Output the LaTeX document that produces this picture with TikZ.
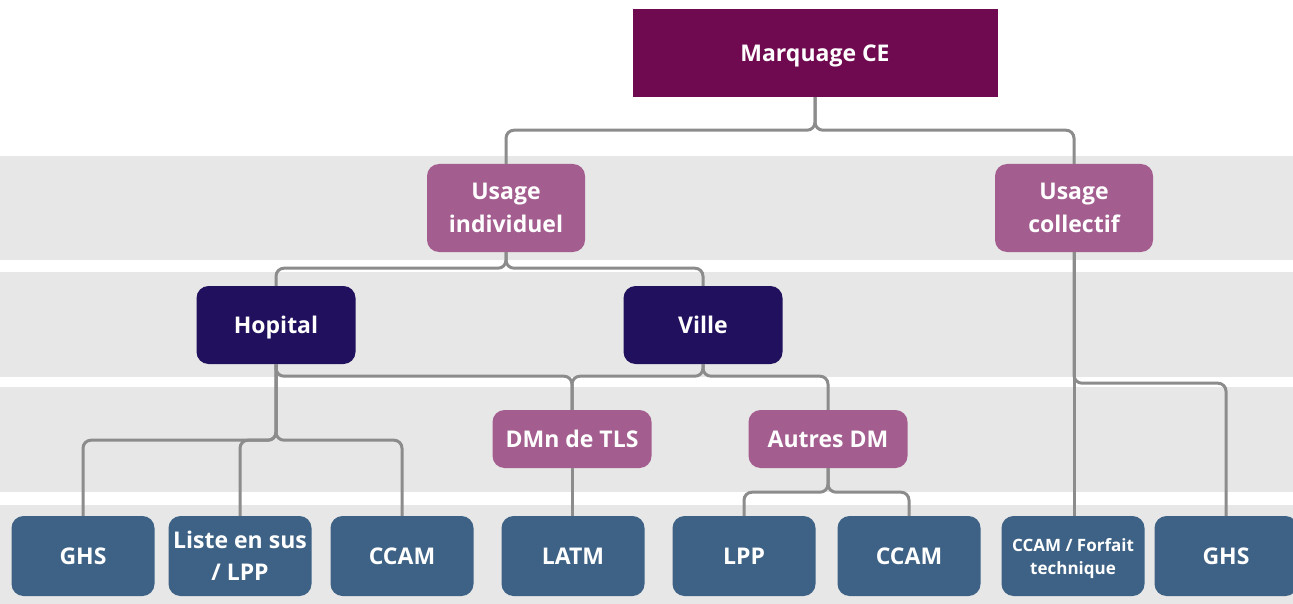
\documentclass[tikz,border=0pt]{standalone}
\usepackage{fontspec}
\setmainfont{Open Sans}
\definecolor{ceplum}{HTML}{700A50}
\definecolor{mauve}{HTML}{A35E8F}
\definecolor{navy}{HTML}{21105E}
\definecolor{slate}{HTML}{3E6285}
\definecolor{band}{HTML}{E7E7E7}
\definecolor{linkgrey}{HTML}{8C8C8C}
\tikzset{
  box/.style={rounded corners=12pt, text=white, align=center, inner sep=0pt, text depth=0pt,
    font=\fontsize{23}{32.5}\selectfont\bfseries},
  top box/.style={box, sharp corners, fill=ceplum, minimum width=365pt, minimum height=88pt},
  usage box/.style={box, fill=mauve, minimum width=158pt, minimum height=88pt},
  place box/.style={box, fill=navy, minimum width=159pt, minimum height=78pt},
  dm box/.style={box, fill=mauve, minimum width=159pt, minimum height=58pt},
  code box/.style={box, fill=slate, minimum width=143pt, minimum height=80pt},
  link/.style={line width=3pt, draw=linkgrey, rounded corners=8pt},
}
\begin{document}
\begin{tikzpicture}[x=1pt, y=-1pt]
  \useasboundingbox (0,0) rectangle (1293,604);

  % Background bands
  \foreach \yt/\yb in {156/260, 272/377, 387/492, 505/604}
    \fill[band] (0,\yt) rectangle (1293,\yb);

  % Boxes
  \node[top box] (ce) at (815,53) {Marquage CE};
  \node[usage box] (indiv) at (506,208) {Usage\\individuel};
  \node[usage box] (coll) at (1074,208) {Usage\\collectif};
  \node[place box] (hopital) at (276,325) {Hopital};
  \node[place box] (ville) at (703,325) {Ville};
  \node[dm box] (tls) at (572,439) {DMn de TLS};
  \node[dm box] (autres) at (828,439) {Autres DM};
  \node[code box] (ghsH) at (83,556) {GHS};
  \node[code box] (sus) at (240,556) {Liste en sus\\/ LPP};
  \node[code box] (ccamH) at (402,556) {CCAM};
  \node[code box] (latm) at (573,556) {LATM};
  \node[code box] (lpp) at (744,556) {LPP};
  \node[code box] (ccamV) at (909,556) {CCAM};
  \node[code box, font=\fontsize{17}{23}\selectfont\bfseries] (forfait) at (1073,556) {CCAM / Forfait\\technique};
  \node[code box] (ghsC) at (1226,556) {GHS};

  % Connectors (drop below parent, then across and down)
  \foreach \a/\b/\d in {ce/indiv/33, ce/coll/33, indiv/hopital/16, indiv/ville/16,
      hopital/tls/12, ville/tls/12, ville/autres/12,
      hopital/ghsH/76, hopital/sus/76, hopital/ccamH/76,
      coll/ghsC/131, autres/lpp/24, autres/ccamV/24}
    \draw[link] (\a.south) -- ++(0,\d) -| (\b.north);
  \draw[link] (tls.south) -- (tls.south |- latm.north);
  \draw[link] (coll.south) -- (coll.south |- forfait.north);
\end{tikzpicture}
\end{document}
